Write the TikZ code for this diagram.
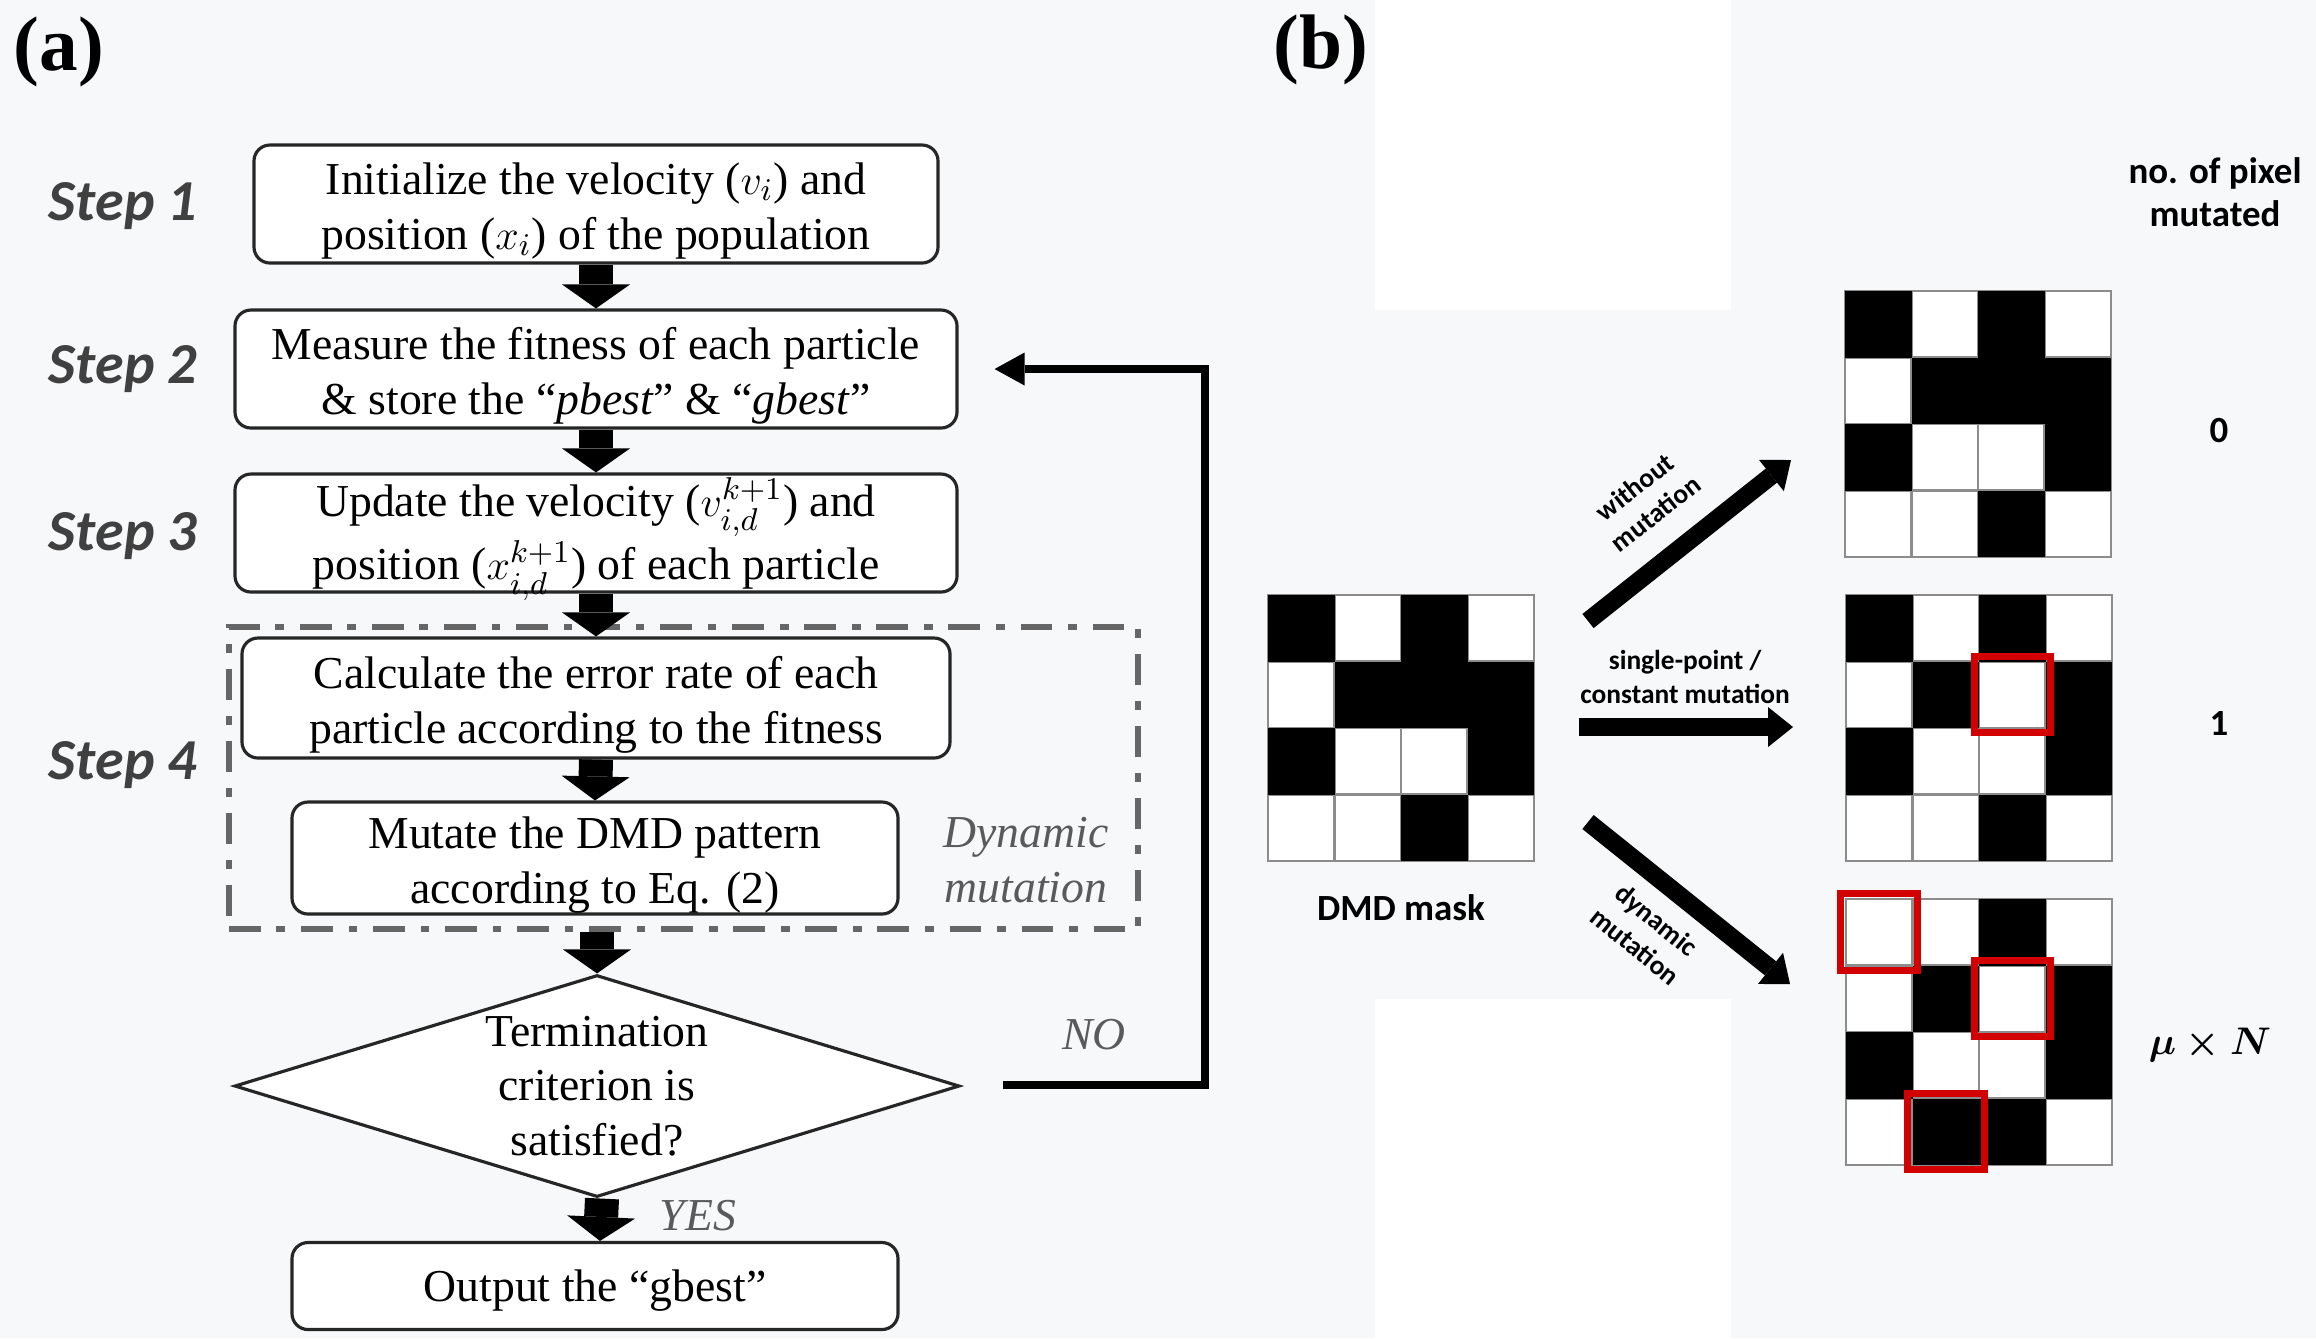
\documentclass[tikz,border=0pt]{standalone}
\usepackage{fontspec}
\usepackage{amsmath}
\setmainfont{Liberation Serif}
\newfontfamily\calibri{Carlito}
\usetikzlibrary{positioning,calc,shapes.geometric,arrows.meta}

\definecolor{bggray}{RGB}{247,248,250}
\definecolor{labelgray}{RGB}{64,64,64}
\definecolor{notegray}{RGB}{90,90,90}
\definecolor{markred}{RGB}{210,0,0}

\newcommand{\upstrut}[1][12.9pt]{\rule{0pt}{#1}}

\tikzset{
  stepbox/.style={draw=black!85, line width=0.9pt, rounded corners=0.16cm, fill=white,
    align=center, inner sep=0pt, font=\fontsize{13}{15.5}\selectfont},
  decision/.style={diamond, aspect=3.27, draw=black!85, line width=0.9pt, fill=white,
    inner sep=0pt, minimum width=7.25cm, minimum height=2.22cm, align=center,
    font=\fontsize{13}{15.6}\selectfont},
  steplabel/.style={font=\calibri\bfseries\itshape\fontsize{16.5}{18}\selectfont, text=labelgray},
  dashbox/.style={draw=black!60, line width=1.8pt, dash pattern=on 9pt off 4.5pt on 2.5pt off 4.5pt,
    minimum width=9.09cm, minimum height=3.02cm},
  blockarrow/.style={line width=0.34cm, -{Triangle[width=0.68cm,length=0.24cm,line width=0pt]}},
  fbline/.style={line width=2.5pt, line join=miter, -{Triangle[width=0.33cm,length=0.3cm,line width=0pt]}},
  fatarrow/.style={line width=0.18cm, -{Triangle[width=0.40cm,length=0.25cm,line width=0pt]}},
  note/.style={font=\itshape\fontsize{13}{15.5}\selectfont, text=notegray, align=center},
  maskcap/.style={font=\calibri\bfseries\fontsize{10.5}{12.2}\selectfont, align=center},
  arrowcap/.style={font=\calibri\bfseries\fontsize{7.8}{9.6}\selectfont, align=center},
  gridline/.style={draw=black!45, line width=0.6pt},
  redmark/.style={draw=markred, line width=2pt},
}

% 4x4 DMD pattern: #1 top-left corner, #2 black cells (col/row)
\newcommand{\dmdgrid}[2]{%
  \begin{scope}[shift={#1}]
    \fill[white] (0,0) rectangle (2.66,-2.66);
    \foreach \k in {1,2,3} {
      \draw[gridline] (\k*0.665,0) -- ++(0,-2.66);
      \draw[gridline] (0,-\k*0.665) -- ++(2.66,0);
    }
    \draw[gridline] (0,0) rectangle (2.66,-2.66);
    \foreach \cx/\cy in {#2}
      \fill[black] (\cx*0.665,-\cy*0.665) rectangle ++(0.665,-0.665);
  \end{scope}}

\begin{document}
\begin{tikzpicture}
\useasboundingbox (0,0) rectangle (23.16,-13.38);
\fill[bggray] (0,0) rectangle (23.16,-13.38);
\fill[white] (13.75,0) rectangle (17.31,-3.10);
\fill[white] (13.75,-9.99) rectangle (17.31,-13.38);

% (a) flow chart
\node[font=\bfseries\fontsize{22}{24}\selectfont] (alabel) at (0.59,-0.52) {(a)};

\node[dashbox] (dyn) at (6.835,-7.78) {};

\node[stepbox, minimum width=6.84cm, minimum height=1.18cm] (init) at (5.96,-2.04)
  {\upstrut Initialize the velocity ($v_i$) and\\position ($x_i$) of the population};
\node[stepbox, minimum width=7.22cm, minimum height=1.18cm] (fit) at (5.96,-3.69)
  {\upstrut Measure the fitness of each particle\\\& store the ``\textit{pbest}'' \& ``\textit{gbest}''};
\node[stepbox, minimum width=7.22cm, minimum height=1.18cm, inner ysep=-0.085cm] (upd) at (5.96,-5.33)
  {\upstrut[14.5pt]Update the velocity ($v_{i,d}^{k+1}$) and\\position ($x_{i,d}^{k+1}$) of each particle};
\node[stepbox, minimum width=7.08cm, minimum height=1.20cm] (err) at (5.96,-6.98)
  {\upstrut Calculate the error rate of each\\particle according to the fitness};
\node[stepbox, minimum width=6.06cm, minimum height=1.12cm] (mut) at (5.95,-8.58)
  {\upstrut Mutate the DMD pattern\\according to Eq. (2)};
\node[decision] (term) at (5.97,-10.86) {Termination\\criterion is\\satisfied?};
\node[stepbox, minimum width=6.06cm, minimum height=0.87cm] (out) at (5.95,-12.86)
  {\upstrut[11.6pt]Output the ``gbest''};

\node[steplabel] (s1) at (1.23,-2.06) {Step 1};
\node[steplabel] (s2) at (1.23,-3.69) {Step 2};
\node[steplabel] (s3) at (1.23,-5.36) {Step 3};
\node[steplabel] (s4) at (1.23,-7.65) {Step 4};

\node[note] (dynnote) at (10.26,-8.60) {Dynamic\\mutation};
\node[note] (no) at (10.94,-10.35) {NO};
\node[note] (yes) at (6.98,-12.16) {YES};

\draw[blockarrow] (init.south) -- (fit.north);
\draw[blockarrow] (fit.south) -- (upd.north);
\draw[blockarrow] (upd.south) -- (err.north);
\draw[blockarrow] (err.south) -- (mut.north);
\draw[blockarrow] (dyn.south -| term) -- (term.north);
\draw[blockarrow] ([xshift=0.05cm]term.south) -- ([xshift=0.05cm]out.north);

\coordinate (loopstart) at (10.03,-10.85);
\draw[fbline] (loopstart) -- ++(2.02,0) |- ([xshift=0.36cm]fit.east);

% (b) DMD masks
\node[font=\bfseries\fontsize{22}{24}\selectfont] (blabel) at (13.21,-0.50) {(b)};

\dmdgrid{(12.68,-5.95)}{0/0,2/0,1/1,2/1,3/1,0/2,3/2,2/3}
\dmdgrid{(18.45,-2.91)}{0/0,2/0,1/1,2/1,3/1,0/2,3/2,2/3}
\dmdgrid{(18.46,-5.95)}{0/0,2/0,1/1,3/1,0/2,3/2,2/3}
\dmdgrid{(18.46,-8.99)}{2/0,1/1,3/1,0/2,3/2,1/3,2/3}

% mutated pixels
\draw[redmark] (19.74,-6.56) rectangle ++(0.765,-0.765);
\draw[redmark] (18.40,-8.93) rectangle ++(0.77,-0.77);
\draw[redmark] (19.74,-9.60) rectangle ++(0.765,-0.765);
\draw[redmark] (19.075,-10.93) rectangle ++(0.765,-0.765);

\node[maskcap] (mask) at (14.01,-9.08) {DMD mask};
\node[maskcap] (count) at (22.15,-1.92) {no. of pixel\\mutated};
\node[maskcap] (n0) at (22.19,-4.31) {0};
\node[maskcap] (n1) at (22.19,-7.23) {1};
\node[font=\fontsize{10.5}{12}\selectfont] (nmu) at (22.10,-10.45) {$\boldsymbol{\mu\times N}$};

\coordinate (upfrom) at (15.88,-6.21);
\coordinate (upto) at (17.91,-4.60);
\coordinate (rfrom) at (15.79,-7.27);
\coordinate (rto) at (17.93,-7.27);
\coordinate (dnfrom) at (15.88,-8.22);
\coordinate (dnto) at (17.90,-9.84);
\draw[fatarrow] (upfrom) -- (upto);
\draw[fatarrow] (rfrom) -- (rto);
\draw[fatarrow] (dnfrom) -- (dnto);

\node[arrowcap, rotate=38] (nomut) at (16.45,-5.00) {without\\mutation};
\node[arrowcap] (single) at (16.85,-6.77) {single-point /\\constant mutation};
\node[arrowcap, rotate=-39] (dynmut) at (16.46,-9.33) {dynamic\\mutation};
\end{tikzpicture}
\end{document}
